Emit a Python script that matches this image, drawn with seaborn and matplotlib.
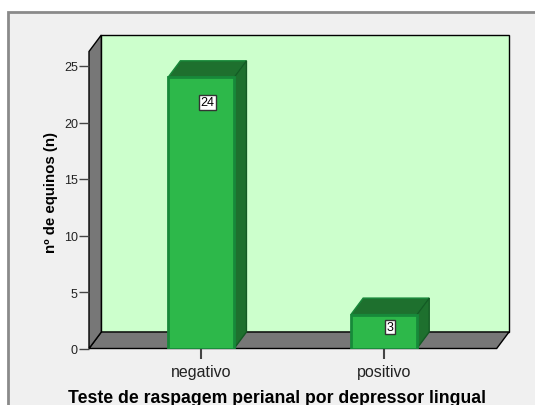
import matplotlib
matplotlib.use("Agg")
import matplotlib.pyplot as plt
from matplotlib.patches import Polygon, Rectangle
import pandas as pd
import seaborn as sns

# data
categories = ["negativo", "positivo"]
counts = [24, 3]
y_ticks = [0, 5, 10, 15, 20, 25]
x_title = "Teste de raspagem perianal por depressor lingual"
y_title = "nº de equinos (n)"

sns.set_theme(style="white")
plt.rcParams["font.family"] = ["Liberation Sans", "DejaVu Sans"]

W, H = 535, 406
fig = plt.figure(figsize=(W / 100, H / 100), dpi=100)
fig.patch.set_facecolor("white")

# grey panel with outer border (runs off the right/bottom edge)
fig.patches.append(Rectangle((8 / W, -0.1), 1.2, 1 - 13 / H + 0.1,
                             transform=fig.transFigure, facecolor="#f0f0f0",
                             edgecolor="#8a8a8a", linewidth=2, zorder=-10))

# axes = front plane of the 3D box (pixel layout)
left, right, bottom, top = 89, 509, 349.5, 36
ax = fig.add_axes([left / W, 1 - bottom / H, (right - left) / W, (bottom - top) / H])
ax.patch.set_alpha(0)

px_per_cat = 182.6
px_per_unit = 11.3
xl = -(201 - left) / px_per_cat
xr = 1 + (right - 384) / px_per_cat
ytop = (bottom - top) / px_per_unit
dx = 12.3 / px_per_cat
dy = 16.5 / px_per_unit
bw = 66 / px_per_cat

ax.set_xlim(xl, xr)
ax.set_ylim(0, ytop)

# back wall, floor, left wall
ax.add_patch(Polygon([(xl + dx, dy), (xr, dy), (xr, ytop), (xl + dx, ytop)],
                     closed=True, facecolor="#ccffcc", edgecolor="black", lw=1,
                     zorder=0, clip_on=False))
ax.add_patch(Polygon([(xl, 0), (xr - dx, 0), (xr, dy), (xl + dx, dy)],
                     closed=True, facecolor="#777777", edgecolor="black", lw=1,
                     zorder=0.5, clip_on=False))
ax.add_patch(Polygon([(xl, 0), (xl + dx, dy), (xl + dx, ytop), (xl, ytop - dy)],
                     closed=True, facecolor="#777777", edgecolor="black", lw=1,
                     zorder=0.5, clip_on=False))

df = pd.DataFrame({"cat": categories, "n": counts})
sns.barplot(data=df, x="cat", y="n", ax=ax, color="#2db84a", width=bw,
            edgecolor="#17893a", linewidth=2, saturation=1, zorder=3)
ax.set_xlim(xl, xr)
ax.set_ylim(0, ytop)

# 3D top and side faces + value labels
for i, v in enumerate(counts):
    x0, x1 = i - bw / 2, i + bw / 2
    ax.add_patch(Polygon([(x0, v), (x1, v), (x1 + dx, v + dy), (x0 + dx, v + dy)],
                         closed=True, facecolor="#1e702e", edgecolor="#17893a", lw=1, zorder=2))
    ax.add_patch(Polygon([(x1, 0), (x1 + dx, dy), (x1 + dx, v + dy), (x1, v)],
                         closed=True, facecolor="#1e702e", edgecolor="#145a24", lw=1, zorder=2))
    off = min(25, 0.37 * v * px_per_unit)
    ax.annotate(str(v), (i + dx / 2, v), xytext=(0, -off), textcoords="offset pixels",
                ha="center", va="center", fontsize=9, color="black", zorder=5,
                bbox=dict(boxstyle="square,pad=0.1", fc="white", ec="#333333", lw=1))

for s in ax.spines.values():
    s.set_visible(False)
ax.set_yticks(y_ticks)
ax.set_yticklabels([str(t) for t in y_ticks])
ax.tick_params(axis="y", left=True, length=7, width=1, color="#444444",
               labelsize=9, labelcolor="#222222", pad=1)
ax.tick_params(axis="x", bottom=True, length=7, width=1.5, color="#444444",
               labelsize=11.5, labelcolor="#222222", pad=4.5)
ax.set_xlabel(x_title, fontsize=12.7, fontweight="bold", color="black")
ax.xaxis.set_label_coords((277 - left) / (right - left), -(390 - bottom) / (bottom - top))
ax.set_ylabel(y_title, fontsize=10.8, fontweight="bold", color="black")
ax.yaxis.set_label_coords(-(left - 58) / (right - left), 0.5)

fig.savefig("out.png", dpi=100)
